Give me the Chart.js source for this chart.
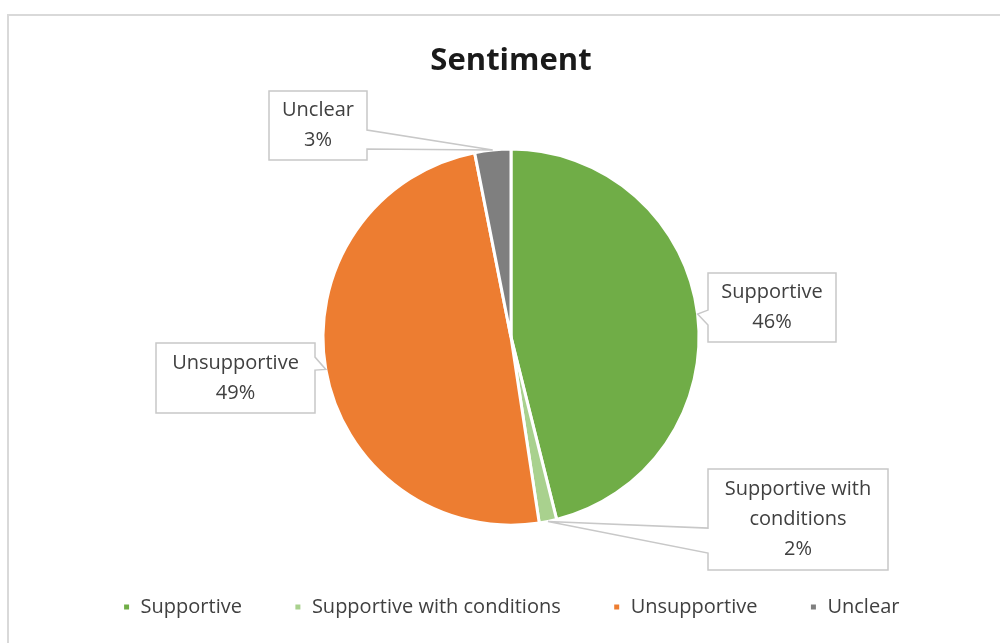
<!DOCTYPE html>
<html>
<head>
<meta charset="utf-8">
<script src="https://cdn.jsdelivr.net/npm/chart.js@4/dist/chart.umd.min.js"></script>
<style>
  html, body { margin: 0; padding: 0; background: #fff; overflow: hidden; }
  #frame { position: absolute; left: 7px; top: 14px; width: 1100px; height: 800px; border: 2px solid #d9d9d9; }
  #wrap { position: absolute; left: 0; top: 0; width: 1000px; height: 643px; }
</style>
</head>
<body>
<div id="frame"></div>
<div id="wrap"><canvas id="sentimentChart"></canvas></div>
<script>
// 카테고리와 비율
const categories = ["Supportive", "Supportive with conditions", "Unsupportive", "Unclear"];
const shares = [46.1, 1.5, 49.3, 3.1];
const sliceColors = ["#70ad47", "#a9d18e", "#ed7d31", "#7f7f7f"];
// 콜아웃 안에 들어갈 줄 나눔
const calloutLines = [["Supportive"], ["Supportive with", "conditions"], ["Unsupportive"], ["Unclear"]];

const FONT = "'Open Sans', 'Noto Sans', sans-serif";

// 콜아웃 상자 위치: 파이 중심 기준 (left, top), 크기, 꼬리 방향과 꼬리 밑변 위치
const calloutBoxes = [
  { dx: 197, dy: -64, w: 128, h: 69, side: "left", base: [37, 52] },
  { dx: 197, dy: 132, w: 180, h: 101, side: "left", base: [59, 84] },
  { dx: -355, dy: 6, w: 159, h: 70, side: "right", base: [14, 27] },
  { dx: -242, dy: -246, w: 98, h: 69, side: "right", base: [39, 58] },
];

const calloutPlugin = {
  id: "callouts",
  afterDatasetsDraw(chart) {
    const ctx = chart.ctx;
    const meta = chart.getDatasetMeta(0);
    const data = chart.data.datasets[0].data;
    const total = data.reduce((a, b) => a + b, 0);
    meta.data.forEach((arc, i) => {
      const p = arc.getProps(["x", "y", "startAngle", "endAngle", "outerRadius"], true);
      const mid = (p.startAngle + p.endAngle) / 2;
      const tipX = p.x + Math.cos(mid) * p.outerRadius;
      const tipY = p.y + Math.sin(mid) * p.outerRadius;
      const b = calloutBoxes[i];
      const L = p.x + b.dx, T = p.y + b.dy, R = L + b.w, B = T + b.h;

      ctx.save();
      ctx.beginPath();
      ctx.moveTo(L, T);
      ctx.lineTo(R, T);
      if (b.side === "right") {
        ctx.lineTo(R, T + b.base[0]);
        ctx.lineTo(tipX, tipY);
        ctx.lineTo(R, T + b.base[1]);
      }
      ctx.lineTo(R, B);
      ctx.lineTo(L, B);
      if (b.side === "left") {
        ctx.lineTo(L, T + b.base[1]);
        ctx.lineTo(tipX, tipY);
        ctx.lineTo(L, T + b.base[0]);
      }
      ctx.closePath();
      ctx.fillStyle = "#ffffff";
      ctx.fill();
      ctx.lineWidth = 1.5;
      ctx.strokeStyle = "#c8c8c8";
      ctx.stroke();

      const lines = calloutLines[i].concat([Math.round((data[i] / total) * 100) + "%"]);
      ctx.fillStyle = "#404040";
      ctx.font = "20px " + FONT;
      ctx.textAlign = "center";
      ctx.textBaseline = "middle";
      const cx = (L + R) / 2, cy = (T + B) / 2;
      lines.forEach((t, k) => {
        ctx.fillText(t, cx, cy + (k - (lines.length - 1) / 2) * 30);
      });
      ctx.restore();
    });
  },
};

const ctx = document.getElementById("sentimentChart").getContext("2d");
new Chart(ctx, {
  type: "pie",
  data: {
    labels: categories,
    datasets: [
      {
        data: shares,
        backgroundColor: sliceColors,
        borderColor: "#ffffff",
        borderWidth: 3,
      },
    ],
  },
  options: {
    responsive: true,
    maintainAspectRatio: false,
    animation: false,
    radius: 188,
    layout: { padding: { top: 43, left: 22, right: 0, bottom: 16 } },
    plugins: {
      title: {
        display: true,
        text: "Sentiment",
        color: "#1a1a1a",
        font: { family: FONT, size: 31, weight: "bold" },
        padding: { top: 0, bottom: 49 },
      },
      legend: {
        position: "bottom",
        labels: {
          color: "#404040",
          font: { family: FONT, size: 20 },
          boxWidth: 8,
          boxHeight: 8,
          padding: 52,
        },
      },
      tooltip: { enabled: false },
    },
  },
  plugins: [calloutPlugin],
});
</script>
</body>
</html>
